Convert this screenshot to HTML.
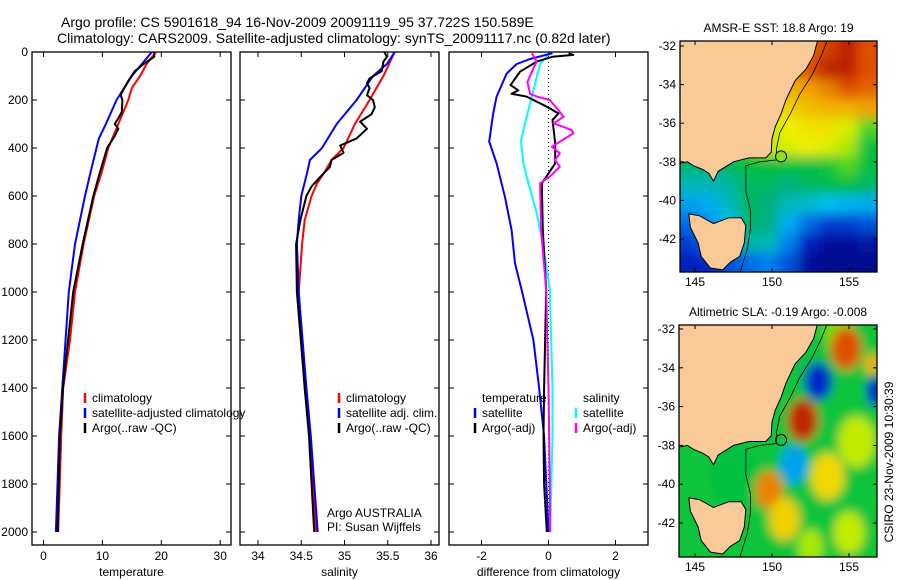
<!DOCTYPE html>
<html><head><meta charset="utf-8">
<style>
html,body{margin:0;padding:0;background:#fff;}
svg{display:block;font-family:"Liberation Sans",sans-serif;}
text{font-size:12px;fill:#000;}
</style></head>
<body>
<svg id="fig" width="900" height="580" viewBox="0 0 900 580" xmlns="http://www.w3.org/2000/svg">
<defs>
<filter id="blur1" x="-10%" y="-10%" width="120%" height="120%"><feGaussianBlur stdDeviation="6"/></filter>
<filter id="blur2" x="-10%" y="-10%" width="120%" height="120%"><feGaussianBlur stdDeviation="5"/></filter>
<clipPath id="clipSST"><rect x="680" y="41" width="197" height="231"/></clipPath>
<clipPath id="clipSLA"><rect x="679" y="325" width="198" height="232"/></clipPath>
</defs>
<text x="61" y="27" style="font-size:14px">Argo profile: CS 5901618_94 16-Nov-2009 20091119_95 37.722S 150.589E</text>
<text x="57" y="43" style="font-size:14px">Climatology: CARS2009. Satellite-adjusted climatology: synTS_20091117.nc (0.82d later)</text>
<g id="plots"></g>
<text transform="translate(893,462) rotate(-90)" text-anchor="middle">CSIRO 23-Nov-2009 10:30:39</text>
</svg>
<script>
// ---------- profile data ----------
const tempClimDepth = [0,50,100,150,200,300,400,500,600,800,1000,1200,1400,1600,2000];
const tempClimValue = [19.1,17.5,16.4,15.0,14.4,12.7,11.0,9.9,8.6,6.8,5.35,4.5,3.35,3.0,2.5];
const tempSatDepth = [0,100,200,300,360,400,500,600,800,1000,1400,1600,2000];
const tempSatValue = [18.4,15.0,12.4,10.6,9.4,9.0,8.0,7.05,5.35,4.3,3.2,2.65,2.1];
const tempArgoDepth = [0,20,50,80,120,160,180,200,250,280,300,320,350,380,400,450,500,600,800,1000,1400,1600,2000];
const tempArgoValue = [18.8,18.8,17.0,15.5,14.4,13.5,13.1,13.4,13.3,12.6,12.1,12.7,12.1,11.3,10.8,10.2,9.6,8.45,6.65,5.05,3.3,2.8,2.4];

const salClimDepth = [0,100,200,300,400,450,500,550,600,700,800,1000,1400,1600,2000];
const salClimValue = [35.58,35.45,35.29,35.12,34.99,34.85,34.77,34.68,34.62,34.54,34.51,34.47,34.54,34.60,34.67];
const salSatDepth = [0,50,100,200,300,400,450,500,600,700,800,1000,1400,1600,2000];
const salSatValue = [35.58,35.49,35.33,35.14,34.91,34.74,34.60,34.57,34.50,34.47,34.45,34.47,34.56,34.61,34.69];
const salArgoDepth = [0,20,40,60,80,110,130,150,180,200,230,260,290,320,360,390,420,450,480,520,560,600,700,800,1000,1400,1600,2000];
const salArgoValue = [35.46,35.49,35.45,35.44,35.43,35.29,35.26,35.29,35.26,35.33,35.35,35.31,35.18,35.26,35.14,34.95,34.99,34.85,34.83,34.72,34.62,34.56,34.49,34.44,34.45,34.54,34.59,34.65];

const dTempSatDepth = [5,29,50,90,186,256,373,464,603,742,881,992,1200,1400,1600,2000];
const dTempSatValue = [0.12,-0.55,-0.95,-1.25,-1.55,-1.65,-1.77,-1.55,-1.3,-1.1,-1.0,-0.8,-0.45,-0.28,-0.13,0];
const dTempArgoDepth = [5,12,20,40,82,138,160,174,186,228,256,283,380,464,547,742,992,1400,1600,1800,2000];
const dTempArgoValue = [0.6,0.74,0.12,-0.35,-0.85,-1.13,-0.9,-1.1,-0.65,-0.05,0.3,0.12,0.2,0.2,-0.2,-0.17,-0.07,-0.13,-0.15,-0.13,-0.05];
const dSalSatDepth = [5,50,186,325,373,464,547,672,811,992,1400,1600,2000];
const dSalSatValue = [0.04,-0.25,-0.5,-0.75,-0.82,-0.75,-0.6,-0.35,-0.15,0.04,0.12,0.12,0.05];
const dSalArgoDepth = [5,40,68,125,174,186,200,242,270,297,325,339,394,422,450,478,519,547,742,992,1400,1600,2000];
const dSalArgoValue = [-0.5,-0.35,-0.45,-0.63,-0.55,-0.35,0.04,0.3,0.45,0.15,0.69,0.74,0.1,0.34,0.19,0.34,0.04,-0.25,-0.22,-0.07,0.0,0.02,0.05];

const depthTicks = [0,200,400,600,800,1000,1200,1400,1600,1800,2000];
const tempTicks = [0,10,20,30];
const salTicks = [34,34.5,35,35.5,36];
const diffTicks = [-2,0,2];

// ---------- map data ----------
const sstGrid = [
 [0.7,0.7,0.7,0.7,0.7,0.8,0.88,0.92,0.96,0.9],
 [0.7,0.7,0.7,0.7,0.75,0.85,0.9,0.96,0.96,0.9],
 [0.7,0.7,0.7,0.7,0.72,0.8,0.82,0.85,0.9,0.88],
 [0.7,0.7,0.7,0.7,0.7,0.76,0.78,0.8,0.8,0.82],
 [0.7,0.7,0.7,0.7,0.68,0.72,0.74,0.74,0.7,0.6],
 [0.55,0.55,0.55,0.6,0.68,0.7,0.72,0.7,0.66,0.55],
 [0.48,0.48,0.5,0.55,0.55,0.55,0.55,0.56,0.6,0.55],
 [0.4,0.4,0.42,0.5,0.5,0.45,0.5,0.52,0.55,0.5],
 [0.3,0.32,0.4,0.5,0.45,0.4,0.38,0.35,0.33,0.32],
 [0.22,0.28,0.35,0.48,0.45,0.32,0.22,0.15,0.15,0.18],
 [0.15,0.22,0.3,0.42,0.4,0.25,0.1,0.05,0.05,0.06],
 [0.1,0.12,0.18,0.22,0.25,0.18,0.05,0.02,0.02,0.02]
];
const slaBlobLon = [154.3,156.5,154.8,153.0,156.8,152.0,151.4,153.6,149.8,150.8,155.5,155.0,152.5,147.5];
const slaBlobLat = [-32.0,-33.8,-33.0,-34.7,-35.2,-36.7,-39.0,-39.6,-40.3,-41.8,-37.8,-42.5,-43.2,-39.5];
const slaBlobVal = [0.62,0.8,0.9,0.12,0.12,0.95,0.3,0.75,0.85,0.76,0.68,0.68,0.66,0.55];
const slaBlobRad = [1.0,0.5,1.0,0.9,0.7,1.0,0.9,1.1,0.9,1.0,1.2,1.0,0.8,1.5];
const lonTicks = [145,150,155];
const latTicks = [-32,-34,-36,-38,-40,-42];
const mainlandLon = [153.0,152.7,152.2,151.5,151.2,150.9,150.6,150.2,150.0,149.95,149.6,148.5,147.5,146.5,146.2,145.9,145.5,144.9,144.5,143.9,143.9];
const mainlandLat = [-31.6,-32.5,-33.2,-33.8,-34.3,-34.8,-35.5,-36.2,-36.8,-37.5,-37.8,-37.8,-38.0,-38.5,-39.0,-38.6,-38.4,-38.2,-38.0,-38.1,-31.6];
const tasLon = [144.6,145.3,146.2,147.2,148.0,148.3,148.2,147.9,147.3,146.8,146.0,145.4,145.2,144.7];
const tasLat = [-40.7,-40.8,-41.2,-40.9,-40.9,-41.3,-42.2,-42.9,-43.2,-43.6,-43.5,-42.9,-42.2,-41.4];
const isoLon = [153.6,153.2,152.6,151.8,151.2,150.5,150.3,150.3,149.2,148.3,148.3,148.6,148.6,148.4,147.9];
const isoLat = [-31.7,-32.5,-33.5,-34.5,-35.5,-36.5,-37.3,-37.9,-38.0,-38.2,-39.5,-40.5,-41.5,-42.5,-43.8];
const argoLon = 150.589, argoLat = -37.722;

// ---------- helpers ----------
const NS='http://www.w3.org/2000/svg';
const root=document.getElementById('plots');
function mk(tag,attrs,parent){const e=document.createElementNS(NS,tag);for(const k in attrs)e.setAttribute(k,attrs[k]);(parent||root).appendChild(e);return e;}
const Y0=52, DS=0.24, PBOT=545;
const yD=d=>Y0+d*DS;

const panels=[
 {name:'temperature',x0:32,x1:231,sx:v=>43.5+v*5.89,ticks:tempTicks,label:'temperature'},
 {name:'salinity',x0:240,x1:439,sx:v=>258+(v-34)*86.5,ticks:salTicks,label:'salinity'},
 {name:'difference',x0:449,x1:648,sx:v=>548.5+v*33.5,ticks:diffTicks,label:'difference from climatology'}
];

function drawPanel(p,idx){
 const g=mk('g',{});
 
 
 const fr=mk('rect',{x:p.x0,y:Y0,width:p.x1-p.x0,height:PBOT-Y0,fill:'none',stroke:'#000','stroke-width':1.3},g);
 
 
 depthTicks.forEach(d=>{
  const y=yD(d);
  mk('line',{x1:p.x0,x2:p.x0+5,y1:y,y2:y,stroke:'#000'},g);
  mk('line',{x1:p.x1-5,x2:p.x1,y1:y,y2:y,stroke:'#000'},g);
  if(idx===0){const t=mk('text',{x:28,y:y+4,'text-anchor':'end'},g);t.textContent=d;
   
   }
 });
 p.ticks.forEach(v=>{
  const x=p.sx(v);
  mk('line',{x1:x,x2:x,y1:Y0,y2:Y0+5,stroke:'#000'},g);
  mk('line',{x1:x,x2:x,y1:PBOT-5,y2:PBOT,stroke:'#000'},g);
  const t=mk('text',{x:x,y:560,'text-anchor':'middle'},g);t.textContent=v;
  
  
 });
 const xl=mk('text',{x:(p.x0+p.x1)/2,y:576,'text-anchor':'middle'},g);xl.textContent=p.label;
 
 
 return g;
}
function line(p,depths,vals,color,name,g){
 const pts=depths.map((d,i)=>p.sx(vals[i]).toFixed(1)+','+yD(d).toFixed(1)).join(' ');
 const e=mk('polyline',{points:pts,fill:'none',stroke:color,'stroke-width':2,'stroke-linejoin':'round'},g);
 
 
}
function legend(g,x,y,color,label,name){
 mk('line',{x1:x,x2:x,y1:y-9,y2:y+1,stroke:color,'stroke-width':2.5},g);
 const t=mk('text',{x:x+7,y:y},g);t.textContent=label;
 
 
}

const g1=drawPanel(panels[0],0);
line(panels[0],tempClimDepth,tempClimValue,'#ff0000','temp-climatology-line',g1);
line(panels[0],tempSatDepth,tempSatValue,'#0000ff','temp-satellite-line',g1);
line(panels[0],tempArgoDepth,tempArgoValue,'#000000','temp-argo-line',g1);
legend(g1,85,402,'#ff0000','climatology','legend-climatology');
legend(g1,85,417,'#0000ff','satellite-adjusted climatology','legend-satellite');
legend(g1,85,432,'#000000','Argo(..raw -QC)','legend-argo');

const g2=drawPanel(panels[1],1);
line(panels[1],salClimDepth,salClimValue,'#ff0000','sal-climatology-line',g2);
line(panels[1],salSatDepth,salSatValue,'#0000ff','sal-satellite-line',g2);
line(panels[1],salArgoDepth,salArgoValue,'#000000','sal-argo-line',g2);
legend(g2,339,402,'#ff0000','climatology','legend-climatology');
legend(g2,339,417,'#0000ff','satellite adj. clim.','legend-satellite');
legend(g2,339,432,'#000000','Argo(..raw -QC)','legend-argo');
const a1=mk('text',{x:327,y:517},g2);a1.textContent='Argo AUSTRALIA';


const a2=mk('text',{x:327,y:531},g2);a2.textContent='PI: Susan Wijffels';



const g3=drawPanel(panels[2],2);
const zl=mk('line',{x1:panels[2].sx(0),x2:panels[2].sx(0),y1:Y0+10,y2:yD(2000),stroke:'#000','stroke-dasharray':'1,3'},g3);


line(panels[2],dSalSatDepth,dSalSatValue,'#00ffff','diff-sal-satellite-line',g3);
line(panels[2],dTempSatDepth,dTempSatValue,'#0000ff','diff-temp-satellite-line',g3);
line(panels[2],dTempArgoDepth,dTempArgoValue,'#000000','diff-temp-argo-line',g3);
line(panels[2],dSalArgoDepth,dSalArgoValue,'#ff00ff','diff-sal-argo-line',g3);
const th=mk('text',{x:482,y:402},g3);th.textContent='temperature';


legend(g3,475,417,'#0000ff','satellite','legend-temp-satellite');
legend(g3,475,432,'#000000','Argo(-adj)','legend-temp-argo');
const sh=mk('text',{x:583,y:402},g3);sh.textContent='salinity';


legend(g3,576,417,'#00ffff','satellite','legend-sal-satellite');
legend(g3,576,432,'#ff00ff','Argo(-adj)','legend-sal-argo');

// ---------- maps ----------
const stops=[[0,'#000080'],[0.12,'#0028c8'],[0.25,'#0080f0'],[0.35,'#00c0f0'],[0.45,'#00b080'],[0.55,'#00c040'],[0.65,'#a0e800'],[0.72,'#f0f000'],[0.82,'#f0a000'],[0.9,'#e05000'],[1,'#a00000']];
function hex(h){return [1,3,5].map(i=>parseInt(h.substr(i,2),16));}
function cmap(v){v=Math.max(0,Math.min(1,v));for(let i=1;i<stops.length;i++){if(v<=stops[i][0]){const t=(v-stops[i-1][0])/(stops[i][0]-stops[i-1][0]);const a=hex(stops[i-1][1]),b=hex(stops[i][1]);return 'rgb('+a.map((c,k)=>Math.round(c+(b[k]-c)*t)).join(',')+')';}}return stops[stops.length-1][1];}

function drawMap(cfg){
 const X=lon=>cfg.lx+(lon-145)*15.4, Y=lat=>cfg.ly+(-32-lat)*cfg.sy;
 const g=mk('g',{});
 
 
 const inner=mk('g',{'clip-path':'url(#'+cfg.clip+')'},g);
 const field=mk('g',{filter:cfg.filter},inner);
 cfg.drawField(field,X,Y);
 const poly=(lons,lats,name)=>{const e=mk('polygon',{points:lons.map((l,i)=>X(l).toFixed(1)+','+Y(lats[i]).toFixed(1)).join(' '),fill:'#f9c998',stroke:'#000','stroke-width':1},inner);
  
  };
 poly(mainlandLon,mainlandLat,'mainland');
 poly(tasLon,tasLat,'tasmania');
 const iso=mk('polyline',{points:isoLon.map((l,i)=>X(l).toFixed(1)+','+Y(isoLat[i]).toFixed(1)).join(' '),fill:'none',stroke:'#000','stroke-width':0.8},inner);
 
 
 const c=mk('circle',{cx:X(argoLon),cy:Y(argoLat),r:5.5,fill:cfg.circleFill,stroke:'#000','stroke-width':1},inner);
 
 
 const fr=mk('rect',{x:cfg.x0,y:cfg.y0,width:cfg.x1-cfg.x0,height:cfg.y1-cfg.y0,fill:'none',stroke:'#000','stroke-width':1.3},g);
 
 
 lonTicks.forEach(l=>{const x=X(l);
  mk('line',{x1:x,x2:x,y1:cfg.y0,y2:cfg.y0+4,stroke:'#000'},g);
  mk('line',{x1:x,x2:x,y1:cfg.y1-4,y2:cfg.y1,stroke:'#000'},g);
  const t=mk('text',{x:x,y:cfg.y1+14,'text-anchor':'middle'},g);t.textContent=l;
  
  });
 latTicks.forEach(l=>{const y=Y(l);
  mk('line',{x1:cfg.x0,x2:cfg.x0+4,y1:y,y2:y,stroke:'#000'},g);
  mk('line',{x1:cfg.x1-4,x2:cfg.x1,y1:y,y2:y,stroke:'#000'},g);
  const t=mk('text',{x:cfg.x0-4,y:y+4,'text-anchor':'end'},g);t.textContent=l;
  
  });
 const tt=mk('text',{x:(cfg.x0+cfg.x1)/2,y:cfg.y0-9,'text-anchor':'middle'},g);tt.textContent=cfg.title;
 
 
}

drawMap({name:'sst-map',clip:'clipSST',filter:'url(#blur1)',lx:695,ly:46,sy:19.3,x0:680,x1:877,y0:41,y1:272,
 title:'AMSR-E SST: 18.8 Argo: 19',circleFill:'#90e020',
 drawField:(g,X,Y)=>{
  sstGrid.forEach((row,r)=>row.forEach((v,c)=>{
   const lon0=144.03+c*1.28, lat0=-31.74-r*0.995;
   let x=X(lon0), y=Y(lat0), w=1.28*15.4+1, h=0.995*19.3+1;
   if(c===0){x-=20;w+=20;} if(c===row.length-1){w+=20;}
   if(r===0){y-=20;h+=20;} if(r===sstGrid.length-1){h+=20;}
   const e=mk('rect',{x:x,y:y,width:w,height:h,fill:cmap(v)},g);
   
   
  }));
 }});
drawMap({name:'sla-map',clip:'clipSLA',filter:'url(#blur2)',lx:695,ly:329,sy:19.4,x0:679,x1:877,y0:325,y1:557,
 title:'Altimetric SLA: -0.19 Argo: -0.008',circleFill:'none',
 drawField:(g,X,Y)=>{
  const bg=mk('rect',{x:650,y:300,width:260,height:280,fill:cmap(0.56)},g);
  
  
  slaBlobLon.forEach((l,i)=>{
   const e=mk('ellipse',{cx:X(l),cy:Y(slaBlobLat[i]),rx:slaBlobRad[i]*15.4,ry:slaBlobRad[i]*19.4*1.1,fill:cmap(slaBlobVal[i])},g);
   
   
  });
 }});
</script>
</body></html>
